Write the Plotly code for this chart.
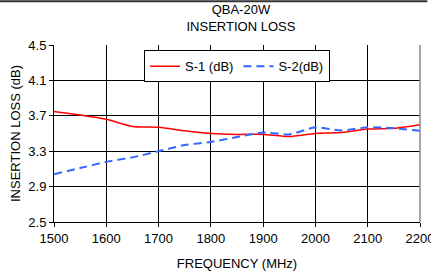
import plotly.graph_objects as go

freq = [1500, 1550, 1600, 1650, 1700, 1750, 1800, 1850, 1900, 1950, 2000, 2050, 2100, 2150, 2200]
s1 = [3.75, 3.71, 3.66, 3.58, 3.57, 3.53, 3.50, 3.49, 3.49, 3.465, 3.50, 3.51, 3.55, 3.56, 3.60]
s2 = [3.04, 3.11, 3.18, 3.23, 3.30, 3.37, 3.405, 3.46, 3.51, 3.49, 3.57, 3.535, 3.57, 3.56, 3.53]

xticks = [1500, 1600, 1700, 1800, 1900, 2000, 2100, 2200]
yticks = [2.5, 2.9, 3.3, 3.7, 4.1, 4.5]

fig = go.Figure()
fig.add_trace(go.Scatter(x=freq, y=s1, name="S-1 (dB)", mode="lines",
                         line=dict(color="#FF0000", width=1.5, shape="spline", smoothing=0.6)))
fig.add_trace(go.Scatter(x=freq, y=s2, name="S-2(dB)", mode="lines",
                         line=dict(color="#3366FF", width=2, dash="8px,5px", shape="spline", smoothing=0.6)))

fig.update_layout(
    width=431, height=274,
    margin=dict(l=54, r=11, t=44.5, b=52, autoexpand=False),
    paper_bgcolor="white", plot_bgcolor="white",
    font=dict(family="Liberation Sans, Arial, sans-serif", size=13, color="black"),
    title=dict(text="QBA-20W<br>INSERTION LOSS", x=0.559, xanchor="center",
               yref="container", y=0.95, yanchor="top", font=dict(size=13)),
    showlegend=True,
    legend=dict(orientation="h", x=0.5, xanchor="center", y=0.97, yanchor="top",
                bordercolor="black", borderwidth=1, bgcolor="white",
                font=dict(size=13), itemwidth=30, tracegroupgap=0),
    xaxis=dict(range=[1500, 2200], tickvals=xticks, showgrid=True, gridcolor="black",
               gridwidth=1, showline=True, linecolor="black", linewidth=1,
               ticks="outside", ticklen=4, tickcolor="black", zeroline=False,
               ticklabeloverflow="allow", automargin=False,
               title=dict(text="FREQUENCY (MHz)", standoff=14, font=dict(size=13))),
    yaxis=dict(range=[2.5, 4.5], tickvals=yticks, tickformat=".1f", showgrid=True,
               gridcolor="black", gridwidth=1, showline=True, linecolor="black",
               linewidth=1, ticks="outside", ticklen=4, tickcolor="black", zeroline=False,
               automargin=False,
               title=dict(text="INSERTION LOSS (dB)", standoff=4, font=dict(size=13))),
    shapes=[
        dict(type="line", xref="paper", yref="paper", x0=-0.2, x1=1.02,
             y0=1.247, y1=1.247, line=dict(color="#333333", width=2)),
        dict(type="line", xref="paper", yref="paper", x0=1, x1=1,
             y0=0, y1=1, line=dict(color="#888888", width=1.5)),
    ],
)

fig.write_html("out.html", config={"displayModeBar": False},
               post_script="document.body.style.margin='0';document.body.style.overflow='hidden';")
